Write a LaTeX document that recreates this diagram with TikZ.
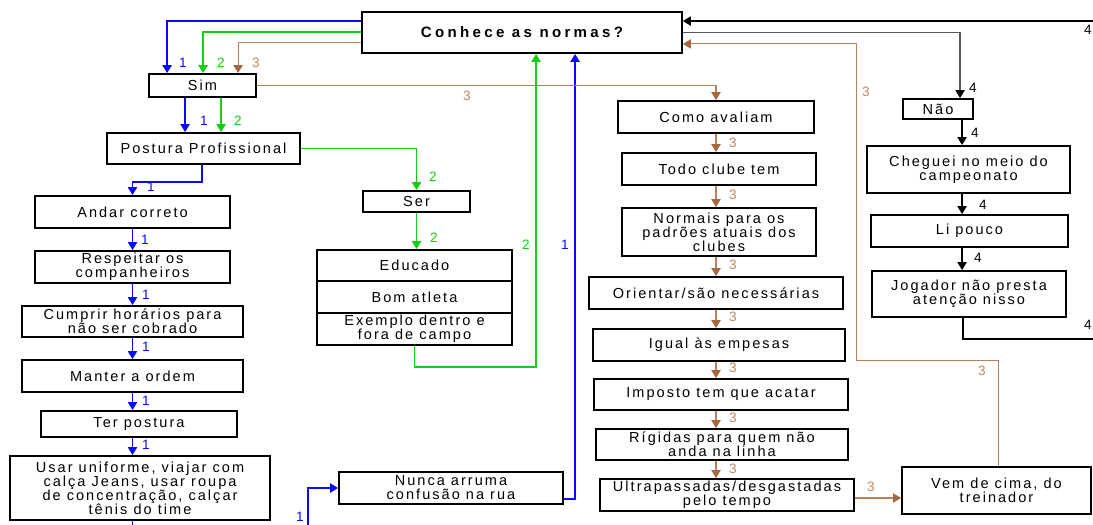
\documentclass[tikz,border=0pt]{standalone}
\usepackage{fontspec}
\setmainfont{Liberation Sans}
\newfontfamily\boxfont{Liberation Sans}[LetterSpace=14]
\newfontfamily\titlefont{Liberation Sans}[LetterSpace=22]
\newfontfamily\labfont{Liberation Sans}
\usetikzlibrary{arrows.meta,calc}

\definecolor{cblue}{RGB}{10,10,255}
\definecolor{cgreen}{RGB}{20,205,20}
\definecolor{cbrown}{RGB}{185,130,95}
\definecolor{cbrownhead}{RGB}{165,105,65}
\definecolor{cbrowntext}{RGB}{195,135,95}
\definecolor{cgrey}{RGB}{90,90,90}

\tikzset{
  box/.style={draw=black, line width=1.4pt, fill=white, inner sep=0pt, align=center,
    font=\boxfont\fontsize{10.9pt}{10.5pt}\selectfont},
  titlebox/.style={box, font=\titlefont\bfseries\fontsize{11.3pt}{12pt}\selectfont},
  tipshape/.style={-{Triangle[length=6pt,width=7pt]}},
  bluearrow/.style={draw=cblue, line width=1pt, tipshape},
  greenarrow/.style={draw=cgreen, line width=1pt, tipshape},
  brownarrow/.style={draw=cbrown, line width=0.8pt, -{Triangle[length=6pt,width=7pt,color=cbrownhead]}},
  blackarrow/.style={draw=black, line width=0.9pt, tipshape},
  greyarrow/.style={draw=cgrey, line width=0.9pt, -{Triangle[length=6pt,width=7pt,color=black]}},
  lab/.style={inner sep=0pt, font=\labfont\fontsize{10.2pt}{10pt}\selectfont},
  labblue/.style={lab, text=cblue},
  labgreen/.style={lab, text=cgreen},
  labbrown/.style={lab, text=cbrowntext},
  labblack/.style={lab, text=black}
}

% a box given by its corners x1,y1,x2,y2 (pixel grid, y downwards)
\newcommand\boxnode[7][box]{%
  \node[#1, minimum width={(#5-#3)*0.75pt}, minimum height={(#6-#4)*0.75pt}]
    (#2) at ({(#3+#5)/2},{(#4+#6)/2}) {#7};}

\begin{document}
\begin{tikzpicture}[x=0.75pt,y=-0.75pt]
\useasboundingbox[fill=white] (0,0) rectangle (1093,525);

% ---- boxes ----
\boxnode[titlebox]{top}{362}{12}{682}{53}{Conhece as normas?}
\boxnode{sim}{149}{74}{256}{97}{Sim}
\boxnode{postura}{107}{133}{300}{164}{Postura Profissional}
\boxnode{andar}{35}{196}{230}{228}{Andar correto}
\boxnode{respeitar}{35}{251}{230}{283}{Respeitar os\\companheiros}
\boxnode{cumprir}{22}{306}{243}{337}{Cumprir horários para\\não ser cobrado}
\boxnode{manter}{22}{360}{243}{392}{Manter a ordem}
\boxnode{ter}{41}{411}{237}{437}{Ter postura}
\boxnode{usar}{10}{456}{270}{520}{Usar uniforme, viajar com\\calça Jeans, usar roupa\\de concentração, calçar\\tênis do time}
\boxnode{ser}{363}{191}{470}{212}{Ser}
\boxnode{educado}{317}{250}{512}{281}{Educado}
\boxnode{bom}{317}{281}{512}{313}{Bom atleta}
\boxnode{exemplo}{317}{313}{512}{345}{Exemplo dentro e\\fora de campo}
\boxnode{nunca}{339}{472}{563}{504}{Nunca arruma\\confusão na rua}
\boxnode{como}{618}{101}{814}{133}{Como avaliam}
\boxnode{todo}{622}{153}{816}{185}{Todo clube tem}
\boxnode{normais}{622}{208}{816}{256}{Normais para os\\padrões atuais dos\\clubes}
\boxnode{orientar}{589}{277}{843}{309}{Orientar/são necessárias}
\boxnode{igual}{593}{329}{845}{361}{Igual às empesas}
\boxnode{imposto}{594}{379}{848}{410}{Imposto tem que acatar}
\boxnode{rigidas}{596}{429}{848}{460}{Rígidas para quem não\\anda na linha}
\boxnode{ultra}{600}{479}{854}{511}{Ultrapassadas/desgastadas\\pelo tempo}
\boxnode{vem}{902}{467}{1091}{514}{Vem de cima, do\\treinador}
\boxnode{nao}{903}{99}{973}{119}{Não}
\boxnode{cheguei}{867}{146}{1070}{193}{Cheguei no meio do\\campeonato}
\boxnode{li}{871}{215}{1068}{247}{Li pouco}
\boxnode{jogador}{872}{271}{1066}{317}{Jogador não presta\\atenção nisso}

% ---- path 1 (blue) ----
\draw[bluearrow] ($(top.north west)+(0,10)$) -| ($(sim.north west)+(19,0)$);
\draw[bluearrow] ($(sim.south west)+(37,0)$) -- ($(postura.north west)+(79,0)$);
\draw[bluearrow] ($(postura.south west)+(96,0)$) -- ++(0,17) -| (andar.north);
\draw[bluearrow] (andar.south) -- (respeitar.north);
\draw[bluearrow] (respeitar.south) -- (respeitar.south |- cumprir.north);
\draw[bluearrow] (cumprir.south -| andar.south) -- (manter.north -| andar.south);
\draw[bluearrow] (manter.south -| andar.south) -- (ter.north -| andar.south);
\draw[bluearrow] (ter.south -| andar.south) -- (usar.north -| andar.south);
\draw[bluearrow] (usar.south -| andar.south) -- ++(0,30) -| ($(nunca.west)+(-30,0)$) -- (nunca.west);
\draw[bluearrow] ($(nunca.south east)+(0,-6)$) -| ($(top.south west)+(214,0)$);

% ---- path 2 (green) ----
\draw[greenarrow] ($(top.north west)+(0,21)$) -| ($(sim.north west)+(55,0)$);
\draw[greenarrow] ($(sim.south west)+(73,0)$) -- ($(postura.north west)+(115,0)$);
\draw[greenarrow] (postura.east) -| (ser.north);
\draw[greenarrow] (ser.south) -- (ser.south |- educado.north);
\draw[greenarrow] (exemplo.south) -- ++(0,21) -| ($(top.south west)+(175,0)$);

% ---- path 3 (brown) ----
\draw[brownarrow] ($(top.north west)+(0,31)$) -| ($(sim.north west)+(90,0)$);
\draw[brownarrow] (sim.east) -| (como.north);
\draw[brownarrow] (como.south) -- (como.south |- todo.north);
\draw[brownarrow] (todo.south -| como.south) -- (normais.north -| como.south);
\draw[brownarrow] (normais.south -| como.south) -- (orientar.north -| como.south);
\draw[brownarrow] (orientar.south -| como.south) -- (igual.north -| como.south);
\draw[brownarrow] (igual.south -| como.south) -- (imposto.north -| como.south);
\draw[brownarrow] (imposto.south -| como.south) -- (rigidas.north -| como.south);
\draw[brownarrow] (rigidas.south -| como.south) -- (ultra.north -| como.south);
\draw[brownarrow] ($(ultra.east)+(0,3)$) -- ($(vem.west)+(0,7.5)$);
\draw[brownarrow] ($(vem.north west)+(97,0)$) -- ++(0,-106) -- ++(-142,0) |- ($(top.south east)+(0,-10)$);

% ---- path 4 (black) ----
\draw[greyarrow] (top.east) -| ($(nao.north west)+(58,0)$);
\draw[blackarrow] ($(nao.south west)+(60,0)$) coordinate (k1) -- (k1 |- cheguei.north);
\draw[blackarrow] ($(cheguei.south west)+(96,0)$) coordinate (k2) -- (k2 |- li.north);
\draw[blackarrow] ($(li.south west)+(92,0)$) coordinate (k3) -- (k3 |- jogador.north);
\draw[blackarrow] ($(jogador.south west)+(92,0)$) -- ++(0,21) -- ++(140,0) |- ($(top.north east)+(0,10)$);

% ---- path numbers ----
\foreach \x/\y [count=\i] in {183/63,204/121,151/187,145/240,146/295,146/347,146/401,146/445,300/517,565/245}
  \node[labblue] (one\i) at (\x,\y) {1};
\foreach \x/\y [count=\i] in {221/63,238/121,433/177,434/238,526/245}
  \node[labgreen] (two\i) at (\x,\y) {2};
\foreach \x/\y [count=\i] in {256/63,467/96,733/143,733/195,733/265,733/317,733/368,733/418,733/469,866/92,982/371,871/487}
  \node[labbrown] (three\i) at (\x,\y) {3};
\foreach \x/\y [count=\i] in {973/88,975/133,983/205,978/258,1088/30,1088/325}
  \node[labblack] (four\i) at (\x,\y) {4};
\end{tikzpicture}
\end{document}
